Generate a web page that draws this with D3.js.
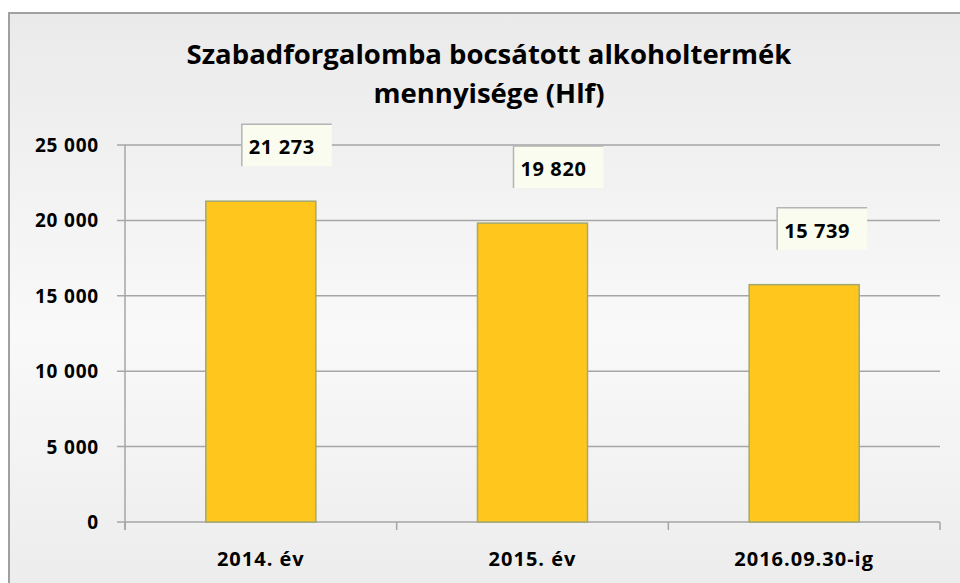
<!DOCTYPE html>
<html>
<head>
<meta charset="utf-8">
<script src="https://cdn.jsdelivr.net/npm/d3@7"></script>
<style>
  body { margin: 0; background: #fff; }
  text { font-family: "Open Sans", sans-serif; font-weight: 700; fill: #000; }
</style>
</head>
<body>
<div id="chart"></div>
<script>
// 資料
var categories = ['2014. év', '2015. év', '2016.09.30-ig'];
var values = [21273, 19820, 15739];
var valueLabels = ['21 273', '19 820', '15 739'];
var yTicks = [0, 5000, 10000, 15000, 20000, 25000];
var yTickLabels = ['0', '5 000', '10 000', '15 000', '20 000', '25 000'];
var titleLines = ['Szabadforgalomba bocsátott alkoholtermék', 'mennyisége (Hlf)'];

const width = 960, height = 583;
const plot = {left: 125, right: 940, top: 145, bottom: 522};

var svg = d3.select('#chart').append('svg')
  .attr('width', width)
  .attr('height', height);

// 背景漸層
var defs = svg.append('defs');
var grad = defs.append('linearGradient')
  .attr('id', 'bg').attr('x1', 0).attr('y1', 0).attr('x2', 0).attr('y2', 1);
grad.append('stop').attr('offset', '0%').attr('stop-color', '#eaeaea');
grad.append('stop').attr('offset', '55%').attr('stop-color', '#f9f9f9');
grad.append('stop').attr('offset', '100%').attr('stop-color', '#ececec');

svg.append('rect')
  .attr('x', 9).attr('y', 13)
  .attr('width', width).attr('height', height)
  .style('fill', 'url(#bg)')
  .style('stroke', '#a0a0a0')
  .style('stroke-width', 2);

// 標題
svg.append('text')
  .attr('text-anchor', 'middle')
  .style('font-size', '27.5px')
  .selectAll('tspan')
  .data(titleLines)
  .enter()
  .append('tspan')
  .attr('x', 489)
  .attr('y', (d, i) => 64 + i * 39)
  .text(d => d);

// scales
var y = d3.scaleLinear().domain([0, 25000]).range([plot.bottom, plot.top]);
var x = d3.scaleBand().domain(categories).range([plot.left, plot.right]).padding(0);
var barW = x.bandwidth() * 0.405;

// 格線
svg.selectAll('line.grid')
  .data(yTicks)
  .enter()
  .append('line')
  .attr('class', 'grid')
  .attr('x1', plot.left - 8)
  .attr('x2', plot.right)
  .attr('y1', d => y(d))
  .attr('y2', d => y(d))
  .style('stroke', '#a6a6a6')
  .style('stroke-width', 1.5);

// Y軸
svg.append('line')
  .attr('x1', plot.left).attr('x2', plot.left)
  .attr('y1', plot.top).attr('y2', plot.bottom + 8)
  .style('stroke', '#a6a6a6').style('stroke-width', 1.5);

// X軸 ticks
var boundaries = categories.map(c => x(c)).concat([plot.right]);
svg.selectAll('line.xtick')
  .data(boundaries)
  .enter()
  .append('line')
  .attr('class', 'xtick')
  .attr('x1', d => d).attr('x2', d => d)
  .attr('y1', plot.bottom).attr('y2', plot.bottom + 8)
  .style('stroke', '#a6a6a6').style('stroke-width', 1.5);

// Y軸文字
svg.selectAll('text.ylabel')
  .data(yTicks)
  .enter()
  .append('text')
  .attr('class', 'ylabel')
  .attr('x', 99)
  .attr('y', d => y(d) + 7)
  .attr('text-anchor', 'end')
  .style('font-size', '19px')
  .style('letter-spacing', '0.8px')
  .text((d, i) => yTickLabels[i]);

// X軸文字
svg.selectAll('text.xlabel')
  .data(categories)
  .enter()
  .append('text')
  .attr('class', 'xlabel')
  .attr('x', d => x(d) + x.bandwidth() / 2)
  .attr('y', 566)
  .attr('text-anchor', 'middle')
  .style('font-size', '20px')
  .style('letter-spacing', '1px')
  .text(d => d);

// bars
svg.selectAll('rect.bar')
  .data(values)
  .enter()
  .append('rect')
  .attr('class', 'bar')
  .attr('x', (d, i) => x(categories[i]) + (x.bandwidth() - barW) / 2)
  .attr('y', d => y(d))
  .attr('width', barW)
  .attr('height', d => plot.bottom - y(d))
  .style('fill', '#ffc61e')
  .style('stroke', '#a3a86e')
  .style('stroke-width', 1.5);

// 數值標籤
var offsets = [26, 26, 18];
var boxW = 90, boxH = 42;
var labels = svg.selectAll('g.vlabel')
  .data(values)
  .enter()
  .append('g')
  .attr('class', 'vlabel')
  .attr('transform', (d, i) => {
    var cx = x(categories[i]) + x.bandwidth() / 2 + offsets[i];
    return `translate(${cx - boxW / 2}, ${y(d) - 35 - boxH})`;
  });
labels.append('rect')
  .attr('width', boxW).attr('height', boxH)
  .style('fill', '#f9fcee');
labels.append('path')
  .attr('d', `M0,${boxH}V0H${boxW}`)
  .style('fill', 'none')
  .style('stroke', '#b4b4b4')
  .style('stroke-width', 1.5);
labels.append('text')
  .attr('x', 7)
  .attr('y', 30)
  .style('font-size', '20px')
  .style('letter-spacing', '0.6px')
  .text((d, i) => valueLabels[i]);
</script>
</body>
</html>
